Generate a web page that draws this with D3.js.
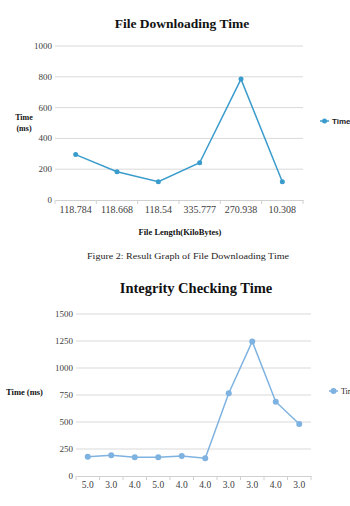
<!DOCTYPE html>
<html>
<head>
<meta charset="utf-8">
<script src="https://cdn.jsdelivr.net/npm/d3@7"></script>
<style>
  body { margin: 0; background: #fff; overflow: hidden; }
  svg { display: block; font-family: "Liberation Serif", serif; }
</style>
</head>
<body>
<svg id="c" width="350" height="506"></svg>
<script>
// chart 1 data
var sizes = ["118.784", "118.668", "118.54", "335.777", "270.938", "10.308"];
var downTimes = [295, 184, 119, 242, 785, 119];
var downTicks = [0, 200, 400, 600, 800, 1000];

// chart 2 data
var versions = ["5.0", "3.0", "4.0", "5.0", "4.0", "4.0", "3.0", "3.0", "4.0", "3.0"];
var checkTimes = [179, 191, 173, 173, 185, 164, 766, 1245, 688, 481];
var checkTicks = [0, 250, 500, 750, 1000, 1250, 1500];

var svg = d3.select("#c");

function drawChart(o) {
  var g = svg.append("g");
  var x = d3.scaleBand().domain(o.cats.map(function(d, i) { return i; }))
      .range([o.x0, o.x1]);
  var y = d3.scaleLinear().domain([0, o.max]).range([o.y0, o.y1]);

  // gridlines
  g.selectAll("line.grid").data(o.ticks.slice(1)).enter().append("line")
    .attr("x1", o.x0).attr("x2", o.x1)
    .attr("y1", function(d) { return y(d); }).attr("y2", function(d) { return y(d); })
    .attr("stroke", "#d9d9d9").attr("stroke-width", 1);

  // y labels
  g.selectAll("text.yl").data(o.ticks).enter().append("text")
    .attr("x", o.x0 - 3).attr("y", function(d) { return y(d) + 3; })
    .attr("text-anchor", "end").attr("font-size", o.fs).attr("fill", "#404040")
    .text(function(d) { return d; });

  // x axis
  var ax = g.append("g").attr("transform", "translate(0," + o.y0 + ")")
    .call(d3.axisBottom(x).tickSize(0).tickFormat(function(i) { return o.cats[i]; }));
  ax.select(".domain").attr("stroke", "#d0d0d0");
  ax.selectAll("text").attr("font-family", "Liberation Serif").attr("font-size", o.xfs)
    .attr("fill", "#404040").attr("dy", "0.95em");
  g.selectAll("line.tk").data(d3.range(o.cats.length + 1)).enter().append("line")
    .attr("x1", function(i) { return o.x0 + i * x.step(); })
    .attr("x2", function(i) { return o.x0 + i * x.step(); })
    .attr("y1", o.y0).attr("y2", o.y0 + 4)
    .attr("stroke", "#d0d0d0");

  var line = d3.line()
    .x(function(d, i) { return x(i) + x.bandwidth() / 2; })
    .y(function(d) { return y(d); });
  g.append("path").datum(o.vals).attr("d", line)
    .attr("fill", "none").attr("stroke", o.color).attr("stroke-width", 1.5);
  g.selectAll("circle").data(o.vals).enter().append("circle")
    .attr("cx", function(d, i) { return x(i) + x.bandwidth() / 2; })
    .attr("cy", function(d) { return y(d); })
    .attr("r", o.r).attr("fill", o.color);

  // legend
  g.append("line").attr("x1", o.lx).attr("x2", o.lx + 9).attr("y1", o.ly).attr("y2", o.ly)
    .attr("stroke", o.color).attr("stroke-width", 1.5);
  g.append("circle").attr("cx", o.lx + 4.5).attr("cy", o.ly).attr("r", o.r).attr("fill", o.color);
  g.append("text").attr("x", o.lx + 12).attr("y", o.ly + 3)
    .attr("font-size", 8).attr("font-weight", o.lw).attr("fill", "#222")
    .attr("font-family", o.lf).text("Time");
}

drawChart({
  cats: sizes, vals: downTimes, ticks: downTicks, max: 1000,
  x0: 55, x1: 303, y0: 200, y1: 46, fs: 9, xfs: 10, color: "#3a9ccc", r: 2.5,
  lx: 320, ly: 121, lw: "bold", lf: "Liberation Sans"
});

drawChart({
  cats: versions, vals: checkTimes, ticks: checkTicks, max: 1500,
  x0: 76, x1: 311, y0: 476, y1: 314, fs: 9, xfs: 9.5, color: "#7eb2e0", r: 3,
  lx: 329, ly: 391, lw: "normal", lf: "Liberation Serif"
});

// titles
svg.append("text").attr("x", 182).attr("y", 28).attr("text-anchor", "middle")
  .attr("font-size", 13.5).attr("font-weight", "bold").attr("fill", "#111")
  .text("File Downloading Time");
svg.append("text").attr("x", 24).attr("y", 120).attr("text-anchor", "middle")
  .attr("font-size", 8).attr("font-weight", "bold").attr("fill", "#111").text("Time");
svg.append("text").attr("x", 24).attr("y", 131).attr("text-anchor", "middle")
  .attr("font-size", 8).attr("font-weight", "bold").attr("fill", "#111").text("(ms)");
svg.append("text").attr("x", 180).attr("y", 235).attr("text-anchor", "middle")
  .attr("font-size", 8.5).attr("font-weight", "bold").attr("fill", "#111")
  .text("File Length(KiloBytes)");

svg.append("text").attr("x", 188).attr("y", 259).attr("text-anchor", "middle")
  .attr("font-size", 9).attr("fill", "#222").attr("textLength", 202)
  .attr("lengthAdjust", "spacingAndGlyphs")
  .text("Figure 2: Result Graph of File Downloading Time");

svg.append("text").attr("x", 196).attr("y", 293).attr("text-anchor", "middle")
  .attr("font-size", 14.5).attr("font-weight", "bold").attr("fill", "#111")
  .text("Integrity Checking Time");
svg.append("text").attr("x", 6).attr("y", 395)
  .attr("font-size", 8.5).attr("font-weight", "bold").attr("fill", "#111")
  .text("Time (ms)");
</script>
</body>
</html>
